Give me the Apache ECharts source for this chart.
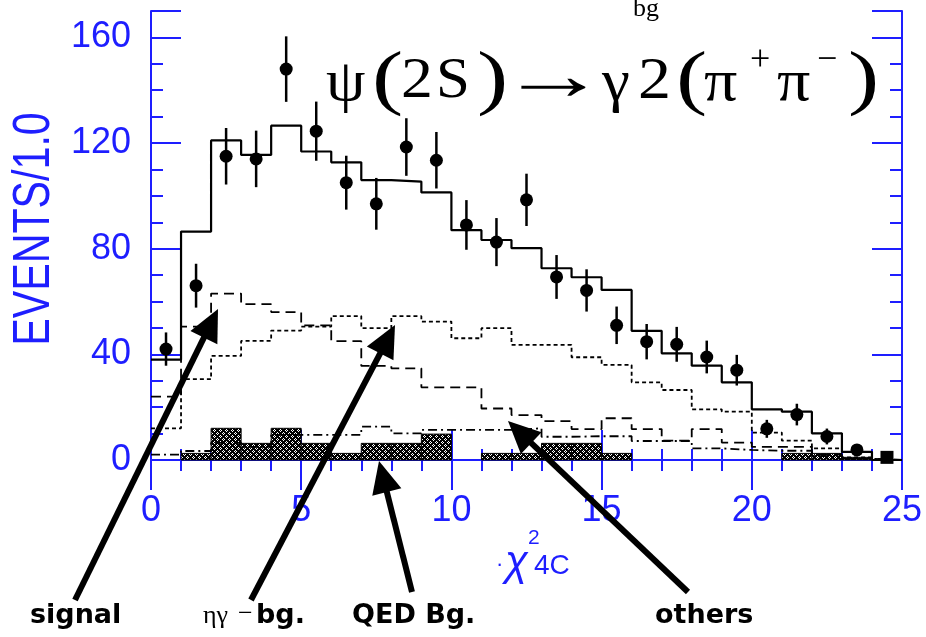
<!DOCTYPE html>
<html><head><meta charset="utf-8">
<script src="https://cdn.jsdelivr.net/npm/echarts@6/dist/echarts.min.js"></script>
<style>html,body{margin:0;padding:0;background:#fff;}#c{width:926px;height:637px;}</style>
</head><body><div id="c"></div>
<script>
// ---- data ----
const binEdges = [0,1,2,3,4,5,6,7,8,9,10,11,12,13,14,15,16,17,18,19,20,21,22,23,24,25];
const binCenters = [0.5,1.5,2.5,3.5,4.5,5.5,6.5,7.5,8.5,9.5,10.5,11.5,12.5,13.5,14.5,15.5,16.5,17.5,18.5,19.5,20.5,21.5,22.5,23.5,24.5];
const dataEvents = [42,66,115,114,148,124.5,105,97,118.5,113.5,89,82.5,98.5,69.3,64.2,51,44.8,43.8,39,34,11.8,17.2,8.9,3.8,1];
const dataErrors = [6.3,8.3,10.7,10.7,12.4,11.2,10.2,9.8,10.9,10.7,9.4,9.1,9.9,8.3,8.0,7.1,6.7,6.6,6.2,5.8,3.4,4.1,3.0,2.0,1.0];
const totalFit = [38,86.5,121,115.5,126.6,116.8,112.7,106,105.4,101.3,87,83.3,80.2,72.6,69.2,64.4,48.9,40.4,35.7,29.4,19.2,18.3,10.1,3.1,0];
const signalMC = [24,50.5,63,59,56,51,45,35.6,34.7,27.5,27.5,19.5,17,14.7,11.7,15.8,11.7,7.3,11.7,6.6,5,5,2,0.5,0];
const etaGammaBg = [12,30.6,39.4,45.1,49,50.5,54.5,49.9,54.5,52.4,46.1,49.9,43.6,43.6,38.9,36,29.4,26.5,19.2,18.3,10.4,7.3,4.4,1,0];
const othersBg = [2,3.4,6.5,5,9.5,9.5,9.5,12.6,10.1,11.4,11.4,11.4,12,8.8,9,9,7.2,7.2,4.4,3.8,3.5,3.5,1.5,0.5,0];
const qedBg = [0,2.5,12,6.3,12,6.3,2.5,6.3,6.3,9.8,0,2.5,2.5,6.3,6.3,2.5,0,0,0,0,0,2.5,2.5,1,0];
const xTickLabels = [0,5,10,15,20,25];
const yTickLabels = [0,40,80,120,160];

// ---- styles ----
const BLUE = '#1e1eff';
const chart = echarts.init(document.getElementById('c'), null, {renderer:'canvas'});

// speckled pattern for QED bars
const pc = document.createElement('canvas'); pc.width = 6; pc.height = 6;
const pctx = pc.getContext('2d');
pctx.fillStyle = '#000'; pctx.fillRect(0,0,6,6);
pctx.fillStyle = '#fff';
[[0,1],[1,0],[2,1],[1,2],[3,4],[4,3],[5,4],[4,5]].forEach(p=>pctx.fillRect(p[0],p[1],1,1));
const hatch = {image: pc, repeat: 'repeat'};

function stepData(vals){
  return binEdges.map((x,i)=>[x, i < vals.length ? vals[i] : vals[vals.length-1]]);
}

const labelSet = new Set(yTickLabels);
const xLabelSet = new Set(xTickLabels);

function xAx(pos, major){
  return {type:'value', min:0, max:25, interval: major?5:1, position:pos,
    axisLine:{show:major, lineStyle:{color:BLUE,width:2}},
    axisTick:{show:true, inside:true, length: major?30:11, lineStyle:{color:BLUE,width:2}},
    splitLine:{show:false},
    axisLabel:{show: major && pos==='bottom', color:BLUE, fontSize:36, fontFamily:'Liberation Sans', margin:33,
      formatter:v=> xLabelSet.has(v)? String(v):''}
  };
}
function yAx(pos, major){
  return {type:'value', min:0, max:170, interval: major?40:10, position:pos,
    axisLine:{show:major, onZero:false, lineStyle:{color:BLUE,width:2}},
    axisTick:{show:true, inside:true, length: major?30:12, lineStyle:{color:BLUE,width:2}},
    splitLine:{show:false},
    axisLabel:{show: major && pos==='left', color:BLUE, fontSize:36, fontFamily:'Liberation Sans', margin:20,
      formatter:v=> labelSet.has(v)? String(v):''}
  };
}

// title glyphs: [text, x, fontSize, yCenter, scaleX]
const SERIF = 'Liberation Serif';
const titleGlyphs = [
  ['ψ',326,60,84,1.05],['(',372,72,82,1.3],['2',401,58,82,1.1],['S',436,58,82,1.05],[')',477,72,82,1.3],
  ['→',499,72,80,1.5],['γ',602,60,84,1.05],['2',638,60,82,1.1],['(',676,72,82,1.3],['π',704,60,84,1.1],
  ['+',750,36,61,1.0],['π',777,60,84,1.1],['−',817,36,61,1.0],[')',848,72,82,1.3]
];
const graphics = titleGlyphs.map(g=>({type:'text', x:g[1], y:g[3], z:50, scaleX:g[4],
  style:{text:g[0], fill:'#000', font:`${g[2]}px "${SERIF}"`, verticalAlign:'middle', align:'left'}}));

graphics.push({type:'text', x:633, y:9, z:60, style:{text:'bg', fill:'#000', font:`26px "${SERIF}"`, verticalAlign:'middle', align:'left'}});

// y-axis title
graphics.push({type:'text', x:35, y:229, z:50, rotation:Math.PI/2, scaleX:1.03, scaleY:1.3,
  style:{text:'EVENTS/1.0', fill:BLUE, font:'40px "Liberation Sans"', align:'center', verticalAlign:'middle'}});

// x-axis name pieces
graphics.push({type:'text', x:496, y:565, z:50, style:{text:'·', fill:BLUE, font:'22px "Liberation Sans"', verticalAlign:'middle'}});
graphics.push({type:'text', x:505, y:563, z:50, style:{text:'χ', fill:BLUE, font:'italic 42px "Liberation Sans"', verticalAlign:'middle'}});
graphics.push({type:'text', x:528, y:538, z:50, style:{text:'2', fill:BLUE, font:'21px "Liberation Sans"', verticalAlign:'middle'}});
graphics.push({type:'text', x:534, y:566, z:50, style:{text:'4C', fill:BLUE, font:'28px "Liberation Sans"', verticalAlign:'middle'}});

// bottom annotation labels
const BOLD = 'bold 27px "DejaVu Sans"';
graphics.push({type:'text', x:30, y:616, z:50, style:{text:'signal', fill:'#000', font:BOLD, verticalAlign:'middle'}});
graphics.push({type:'text', x:203, y:616, z:50, style:{text:'ηγ', fill:'#000', font:`26px "${SERIF}"`, verticalAlign:'middle'}});
graphics.push({type:'text', x:238, y:614, z:50, style:{text:'−', fill:'#000', font:`26px "${SERIF}"`, verticalAlign:'middle'}});
graphics.push({type:'text', x:256, y:616, z:50, style:{text:'bg.', fill:'#000', font:BOLD, verticalAlign:'middle'}});
graphics.push({type:'text', x:352, y:616, z:50, style:{text:'QED Bg.', fill:'#000', font:BOLD, verticalAlign:'middle'}});
graphics.push({type:'text', x:655, y:616, z:50, style:{text:'others', fill:'#000', font:BOLD, verticalAlign:'middle'}});

function arrow(x1,y1,x2,y2){
  const dx=x2-x1, dy=y2-y1, len=Math.hypot(dx,dy), ux=dx/len, uy=dy/len;
  const L=32, W=30; const bx=x2-ux*L, by=y2-uy*L;
  return [
    {type:'line', z:40, shape:{x1:x1,y1:y1,x2:bx+ux*2,y2:by+uy*2}, style:{stroke:'#000', lineWidth:6}},
    {type:'polygon', z:40, shape:{points:[[x2,y2],[bx-uy*W/2,by+ux*W/2],[bx+uy*W/2,by-ux*W/2]]}, style:{fill:'#000'}}
  ];
}
graphics.push(...arrow(75,600,218,309));
graphics.push(...arrow(251,600,395,325));
graphics.push(...arrow(412,592,379,461));
graphics.push(...arrow(688,592,508,421));

const option = {
  animation:false,
  backgroundColor:'#fff',
  grid:{left:151, right:24, top:11, bottom:177, containLabel:false, outerBoundsMode:'none'},
  xAxis:[xAx('bottom',true), xAx('bottom',false), xAx('top',true), xAx('top',false)],
  yAxis:[yAx('left',true), yAx('left',false), yAx('right',true), yAx('right',false)],
  series:[
    {type:'custom', name:'QED Bg.', xAxisIndex:0, yAxisIndex:0, z:2,
      data: qedBg.map((v,i)=>[binEdges[i], binEdges[i+1], v]),
      renderItem:(params, api)=>{
        const v = api.value(2); if (!v) return null;
        const p0 = api.coord([api.value(0), v]); const p1 = api.coord([api.value(1), 0]);
        return {type:'rect', shape:{x:p0[0], y:p0[1], width:p1[0]-p0[0], height:p1[1]-p0[1]},
          style:{fill:hatch, stroke:'#000', lineWidth:1}};
      }},
    {type:'line', name:'others', step:'end', showSymbol:false, data:stepData(othersBg), z:3,
      lineStyle:{color:'#000', width:1.8, type:[9,4,2,4]}},
    {type:'line', name:'ηγ-bg', step:'end', showSymbol:false, data:stepData(etaGammaBg), z:3,
      lineStyle:{color:'#000', width:1.8, type:[4,3]}},
    {type:'line', name:'signal', step:'end', showSymbol:false, data:stepData(signalMC), z:3,
      lineStyle:{color:'#000', width:1.8, type:[10,6]}},
    {type:'line', name:'total', step:'end', showSymbol:false, data:stepData(totalFit), z:4,
      lineStyle:{color:'#000', width:2.2, type:'solid'}},
    {type:'custom', name:'errors', z:5,
      data: binCenters.map((x,i)=>[x, dataEvents[i], dataErrors[i]]),
      renderItem:(params, api)=>{
        const x=api.value(0), y=api.value(1), e=api.value(2);
        const a=api.coord([x, Math.max(0,y-e)]), b=api.coord([x, y+e]);
        return {type:'line', shape:{x1:a[0],y1:a[1],x2:b[0],y2:b[1]}, style:{stroke:'#000', lineWidth:2.5}};
      }},
    {type:'scatter', name:'data', z:6, symbolSize:13,
      itemStyle:{color:'#000', opacity:1},
      data: binCenters.map((x,i)=> i===binCenters.length-1 ? {value:[x,dataEvents[i]], symbol:'rect', symbolSize:13} : [x, dataEvents[i]])}
  ],
  graphic: graphics
};
chart.setOption(option);
</script></body></html>
